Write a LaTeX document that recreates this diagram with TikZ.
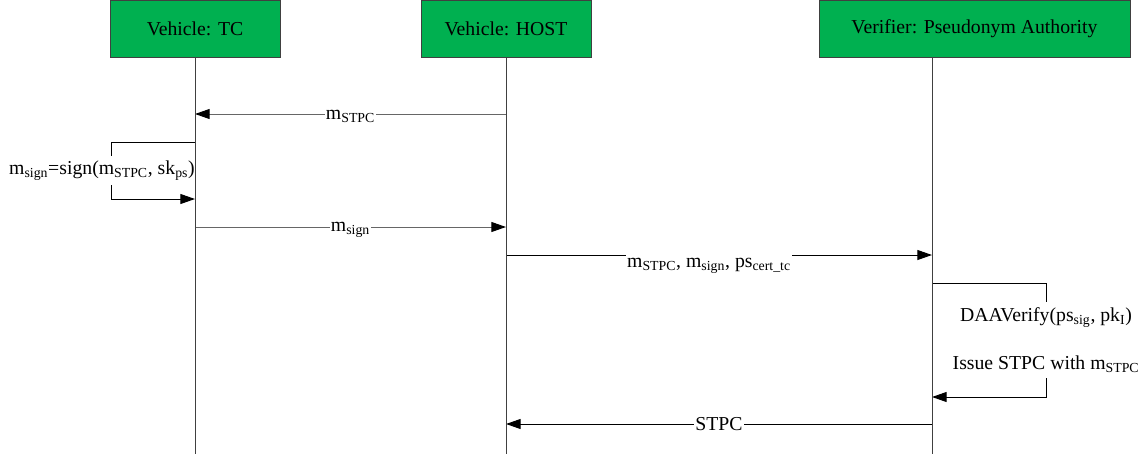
\documentclass[tikz,border=0pt]{standalone}
\usepackage{fontspec}
\setmainfont{Liberation Serif}
\usetikzlibrary{arrows.meta}
\definecolor{actorgreen}{RGB}{0,176,80}
\tikzset{
	actor/.style={draw=black!75, line width=0.75pt, fill=actorgreen, minimum height=42.75pt, inner sep=0pt, font=\fontsize{14.8}{17}\selectfont},
	lifeline/.style={black!75, line width=0.75pt},
	msg/.style={-{Triangle[length=11pt,width=7.5pt,color=black]}, line width=0.75pt, black},
	msggray/.style={msg, black!60},
	lbl/.style={fill=white, text=black, inner xsep=1pt, inner ysep=2pt, font=\fontsize{14.8}{17}\selectfont},
}
\begin{document}
\begin{tikzpicture}[x=0.75pt, y=-0.75pt]
		\useasboundingbox (0,0) rectangle (1146,454);
		\node [actor, minimum width=127.5pt] (tc) at (195,28.5) {Vehicle: TC};
		\node [actor, minimum width=127.5pt] (host) at (506,28.5) {Vehicle: HOST};
		\node [actor, minimum width=233.25pt] (pa) at (974.5,28.5) {Verifier: Pseudonym Authority};
		\coordinate (tcEnd) at (195,454);
		\coordinate (hostEnd) at (506,454);
		\coordinate (paTop) at (932,57);
		\coordinate (paEnd) at (932,454);
		\coordinate (tc1) at (195,114);
		\coordinate (host1) at (506,114);
		\coordinate (tc2) at (195,142);
		\coordinate (tc3) at (195,199);
		\coordinate (tc4) at (195,227);
		\coordinate (host4) at (506,227);
		\coordinate (host5) at (506,255);
		\coordinate (pa5) at (932,255);
		\coordinate (pa6) at (932,283);
		\coordinate (pa7) at (932,397);
		\coordinate (pa8) at (932,424);
		\coordinate (host8) at (506,424);
		\draw [msggray] (host1) -- node [lbl, yshift=-2pt] (mstpc) {m\textsubscript{STPC}} (tc1);
		\draw [msg] (tc2) -- ++(-84,0) -- node [lbl, xshift=-6.75pt, inner ysep=3.5pt] (msign) {m\textsubscript{sign}=sign(m\textsubscript{STPC}, sk\textsubscript{ps})} ++(0,57) -- (tc3);
		\draw [msggray] (tc4) -- node [lbl, yshift=-2pt] (msend) {m\textsubscript{sign}} (host4);
		\draw [msg] (host5) -- node [lbl, inner ysep=3pt, xshift=-7.5pt, yshift=-8.25pt] (mall) {m\textsubscript{STPC}, m\textsubscript{sign}, ps\textsubscript{cert\_tc}} (pa5);
		\draw [msg] (pa6) -- ++(114,0) -- node [lbl, align=center, inner ysep=4pt] (verify) {DAAVerify(ps\textsubscript{sig}, pk\textsubscript{I})\\[19pt]Issue STPC with m\textsubscript{STPC}} ++(0,114) -- (pa7);
		\draw [msg] (pa8) -- node [lbl] (stpc) {STPC} (host8);
		\draw [lifeline] (tc) -- (tcEnd);
		\draw [lifeline] (host) -- (hostEnd);
		\draw [lifeline] (paTop) -- (paEnd);
\end{tikzpicture}
\end{document}
